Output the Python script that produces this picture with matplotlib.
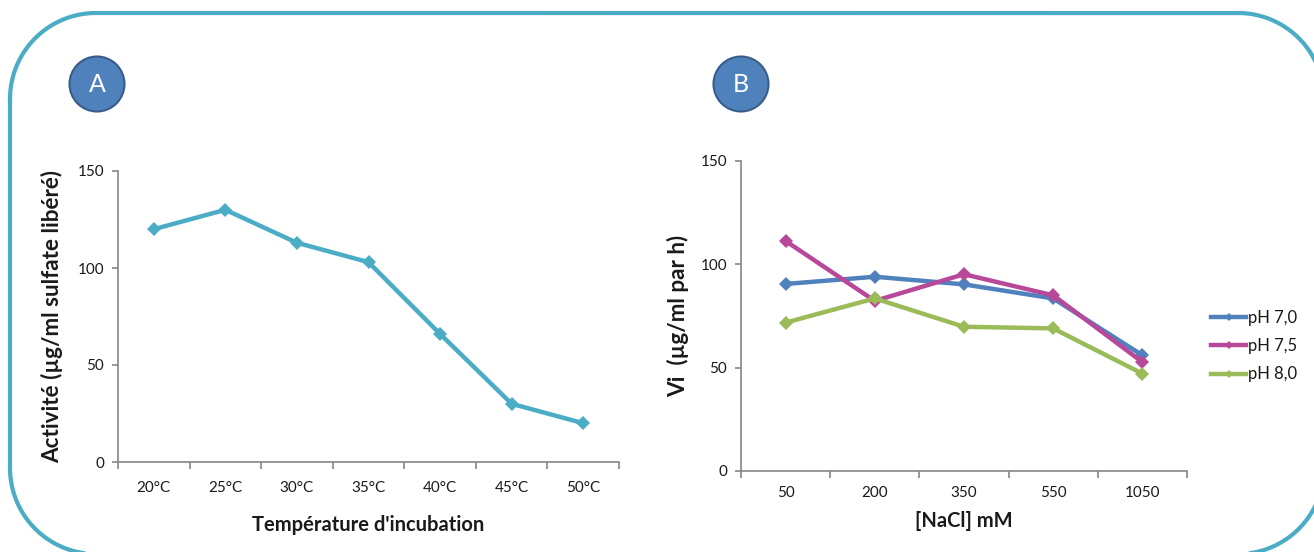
import matplotlib
matplotlib.use("Agg")
import matplotlib.pyplot as plt
import numpy as np
from matplotlib.patches import Circle
from matplotlib.lines import Line2D

plt.rcParams['font.family'] = ['Lato', 'DejaVu Sans']

# ---- data ----
temp_labels = ["20°C", "25°C", "30°C", "35°C", "40°C", "45°C", "50°C"]
activite = [120, 130, 113, 103, 66, 30, 20]

nacl_labels = ["50", "200", "350", "550", "1050"]
ph70 = [90.5, 94, 90.3, 83.5, 56]
ph75 = [111.3, 82.3, 95.2, 85, 52.7]
ph80 = [71.8, 83.5, 69.8, 69, 47.1]
series_names = ["pH 7,0", "pH 7,5", "pH 8,0"]

W, H = 1314, 552
fig = plt.figure(figsize=(W / 100, H / 100), dpi=100)

AXC = "#868686"
TXT = "#1a1a1a"

def style_axes(ax, labels, xpad):
    n = len(labels)
    ax.set_xlim(-0.5, n - 0.5)
    ax.set_ylim(0, 150)
    ax.set_yticks([0, 50, 100, 150])
    ax.set_xticks(np.arange(n))
    ax.set_xticklabels(labels)
    ax.set_xticks(np.arange(n + 1) - 0.5, minor=True)
    ax.tick_params(axis='x', which='major', length=0, pad=xpad, labelsize=11, labelcolor=TXT)
    ax.tick_params(axis='x', which='minor', length=5, width=1.2, color=AXC, direction='out')
    ax.tick_params(axis='y', which='major', length=4, width=1.2, color=AXC, pad=6,
                   labelsize=11, labelcolor=TXT)
    for s in ['top', 'right']:
        ax.spines[s].set_visible(False)
    for s in ['left', 'bottom']:
        ax.spines[s].set_color(AXC)
        ax.spines[s].set_linewidth(1.2)
    ax.patch.set_alpha(0)

# ---- panel A ----
axA = fig.add_axes([118 / W, 1 - 462 / H, 501 / W, 291 / H])
xa = np.arange(len(temp_labels))
axA.plot(xa, activite, color="#4BACC6", lw=3.2, marker='D', markersize=7,
         markeredgewidth=0, clip_on=False)
style_axes(axA, temp_labels, 14)
axA.set_xlabel("Température d'incubation", fontsize=14.5, fontweight='bold', color=TXT, labelpad=14)
axA.set_ylabel("Activité (µg/ml sulfate libéré)", fontsize=16.2, fontweight='bold', color=TXT,
               labelpad=10)

# ---- panel B ----
axB = fig.add_axes([741 / W, 1 - 471 / H, 446 / W, 310 / H])
xb = np.arange(len(nacl_labels))
colors = ["#4F81BD", "#B8489A", "#9BBB59"]
for vals, c, name in zip([ph70, ph75, ph80], colors, series_names):
    axB.plot(xb, vals, color=c, lw=3.2, marker='D', markersize=7, markeredgewidth=0,
             label=name, clip_on=False)
style_axes(axB, nacl_labels, 11)
axB.set_xlabel("[NaCl] mM", fontsize=14.5, fontweight='bold', color=TXT, labelpad=8)
axB.set_ylabel("Vi  (µg/ml par h)", fontsize=16.2, fontweight='bold', color=TXT,
               labelpad=8)

handles = [Line2D([0], [0], color=c, lw=3.2, marker='D', markersize=4, markeredgewidth=0)
           for c in colors]
leg = fig.legend(handles, series_names, loc='center left',
                 bbox_to_anchor=(1211 / W, 1 - 346 / H), frameon=False,
                 fontsize=12, handlelength=2.1, handletextpad=0.1, labelspacing=0.75,
                 borderaxespad=0, borderpad=0)
for t in leg.get_texts():
    t.set_color(TXT)

# ---- overlay: rounded frame and panel badges (pixel coords, y down) ----
ov = fig.add_axes([0, 0, 1, 1], zorder=-1)
ov.set_xlim(0, W)
ov.set_ylim(H, 0)
ov.axis('off')

x0, y0, x1, y1, r = 10, 13, 1324, 554, 86
def arc(cx, cy, a0, a1):
    t = np.radians(np.linspace(a0, a1, 40))
    return cx + r * np.cos(t), cy + r * np.sin(t)
parts = [arc(x0 + r, y0 + r, 180, 270), arc(x1 - r, y0 + r, 270, 360),
         arc(x1 - r, y1 - r, 0, 90), arc(x0 + r, y1 - r, 90, 180)]
fx = np.concatenate([p[0] for p in parts] + [parts[0][0][:1]])
fy = np.concatenate([p[1] for p in parts] + [parts[0][1][:1]])
ov.plot(fx, fy, color="#4BACC6", lw=3, solid_joinstyle='round')

for cx, letter in [(97, "A"), (741, "B")]:
    ov.add_patch(Circle((cx, 84), 27.5, facecolor="#4F81BD", edgecolor="#385D8A", linewidth=1.5))
    ov.text(cx, 85, letter, color='white', fontsize=18, ha='center', va='center')

fig.savefig("out.png", dpi=100)
